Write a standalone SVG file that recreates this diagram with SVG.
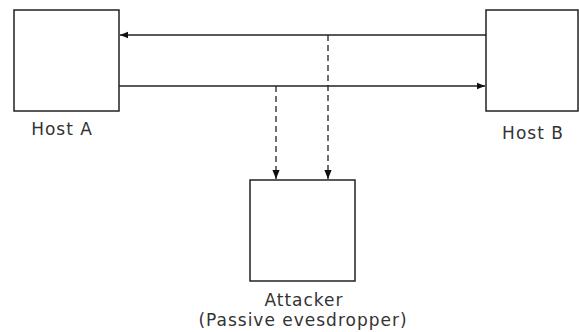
<svg xmlns="http://www.w3.org/2000/svg" width="579" height="332" viewBox="0 0 579 332">
<defs>
<style>
.box{fill:#fff;stroke:#222;stroke-width:1.5}
.ln{stroke:#222;stroke-width:1.3;fill:none}
.dash{stroke-dasharray:6,4}
.lbl{font-family:"DejaVu Sans",Verdana,sans-serif;font-size:17px;letter-spacing:1px;fill:#333;text-anchor:middle}
</style>
<marker id="ah" viewBox="0 0 10 10" refX="10" refY="5" markerWidth="8" markerHeight="8" markerUnits="userSpaceOnUse" orient="auto">
<path d="M0,1 L10,5 L0,9 Z" fill="#111"/>
</marker>
<marker id="ahd" viewBox="0 0 10 10" refX="10" refY="5" markerWidth="9" markerHeight="9" markerUnits="userSpaceOnUse" orient="auto">
<path d="M0,1 L10,5 L0,9 Z" fill="#111"/>
</marker>
</defs>
<rect width="579" height="332" fill="#fff"/>
<g id="hostA">
<rect class="box" x="14" y="10" width="105" height="101"/>
<text class="lbl" x="62" y="135">Host A</text>
</g>
<g id="hostB">
<rect class="box" x="486" y="10" width="92" height="101"/>
<text class="lbl" x="533" y="139">Host B</text>
</g>
<g id="attacker">
<rect class="box" x="250" y="180" width="105" height="101"/>
<text class="lbl" x="304" y="306">Attacker</text>
<text class="lbl" x="303" y="326">(Passive evesdropper)</text>
</g>
<g id="connectors">
<path class="ln" d="M486,35 L120,35" marker-end="url(#ah)"/>
<path class="ln" d="M119,86 L485,86" marker-end="url(#ah)"/>
<path class="ln dash" d="M276,86 L276,179" marker-end="url(#ahd)"/>
<path class="ln dash" d="M328,35 L328,179" marker-end="url(#ahd)"/>
</g>
</svg>
